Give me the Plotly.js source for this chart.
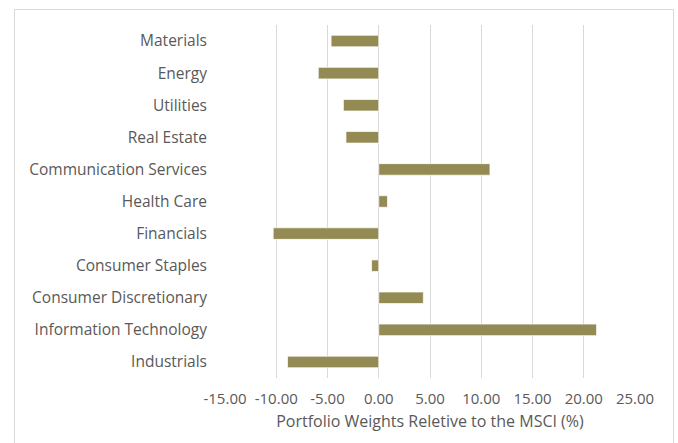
<!DOCTYPE html>
<html>
<head>
<meta charset="utf-8">
<script src="https://cdn.plot.ly/plotly-3.0.1.min.js"></script>
<style>
  html, body { margin: 0; padding: 0; background: #ffffff; }
  #wrap { position: relative; width: 678px; height: 443px; overflow: hidden; }
  #frame { position: absolute; left: 14px; top: 9px; width: 660px; height: 460px; border: 1px solid #d9d9d9; box-sizing: border-box; pointer-events: none; }
  #chart { position: absolute; left: 0; top: 0; width: 678px; height: 443px; }
</style>
</head>
<body>
<div id="wrap">
  <div id="chart"></div>
  <div id="frame"></div>
</div>
<script>
// Sectors listed top to bottom as shown in the chart
const sectors = [
  "Materials",
  "Energy",
  "Utilities",
  "Real Estate",
  "Communication Services",
  "Health Care",
  "Financials",
  "Consumer Staples",
  "Consumer Discretionary",
  "Information Technology",
  "Industrials"
];
const relativeWeights = [-4.65, -5.9, -3.45, -3.2, 10.85, 0.85, -10.3, -0.7, 4.35, 21.25, -8.9];
const xTickValues = [-15, -10, -5, 0, 5, 10, 15, 20, 25];
const xTickLabels = ["-15.00", "-10.00", "-5.00", "0.00", "5.00", "10.00", "15.00", "20.00", "25.00"];

const trace = {
  type: "bar",
  orientation: "h",
  x: relativeWeights,
  y: sectors,
  marker: { color: "#948A54", line: { color: "rgba(255,255,255,0.7)", width: 1 } },
  hoverinfo: "x+y"
};

const layout = {
  width: 678,
  height: 443,
  margin: { l: 225, r: 43, t: 25, b: 65 },
  paper_bgcolor: "rgba(0,0,0,0)",
  plot_bgcolor: "rgba(0,0,0,0)",
  font: { family: "Open Sans, sans-serif", color: "#595959", size: 15 },
  bargap: 0.64,
  showlegend: false,
  xaxis: {
    range: [-15, 25],
    tickmode: "array",
    tickvals: xTickValues,
    ticktext: xTickLabels,
    showgrid: true,
    gridcolor: "#d9d9d9",
    gridwidth: 1,
    zeroline: true,
    zerolinecolor: "#d9d9d9",
    zerolinewidth: 1,
    showline: false,
    ticks: "",
    ticklabelstandoff: 10,
    tickfont: { size: 15, color: "#595959" },
    title: { text: "Portfolio Weights Reletive to the MSCI (%)", font: { size: 16, color: "#595959" }, standoff: 8 }
  },
  yaxis: {
    type: "category",
    autorange: "reversed",
    showgrid: false,
    zeroline: false,
    showline: false,
    ticks: "",
    ticklabelstandoff: 17,
    tickfont: { size: 15.5, color: "#595959" }
  }
};

Plotly.newPlot("chart", [trace], layout, { displayModeBar: false, staticPlot: true });
</script>
</body>
</html>
